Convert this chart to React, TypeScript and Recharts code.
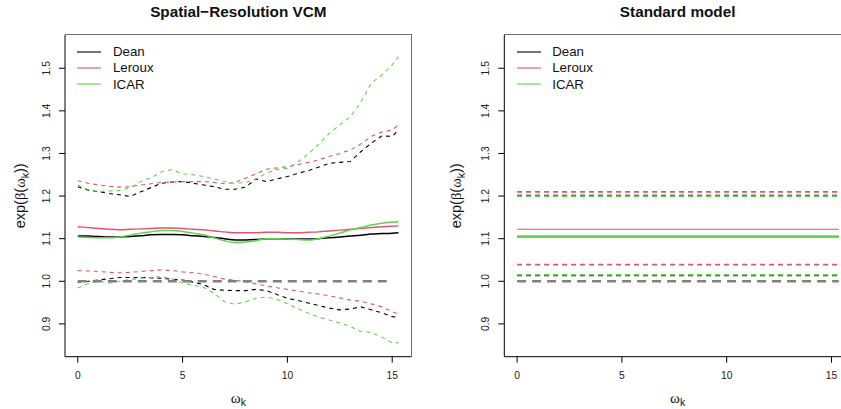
import React from 'react';
import { LineChart, Line, XAxis, YAxis, Legend } from 'recharts';

const FONT = '"Liberation Sans", Arial, Helvetica, sans-serif';
const SERIF = '"Liberation Serif", "DejaVu Serif", serif';

// ---------- data: Spatial-Resolution VCM ----------
const omega = [0, 0.5, 1, 1.5, 2, 2.5, 3, 3.5, 4, 4.5, 5, 5.5, 6, 6.5, 7, 7.5, 8, 8.5, 9, 9.5, 10, 10.5, 11, 11.5, 12, 12.5, 13, 13.5, 14, 14.5, 15, 15.3];

const deanHi = [1.222, 1.214, 1.210, 1.206, 1.203, 1.199, 1.210, 1.220, 1.230, 1.233, 1.234, 1.230, 1.226, 1.222, 1.216, 1.216, 1.221, 1.240, 1.234, 1.240, 1.246, 1.253, 1.260, 1.268, 1.277, 1.279, 1.281, 1.304, 1.324, 1.341, 1.340, 1.355];
const deanMid = [1.1065, 1.106, 1.105, 1.104, 1.104, 1.105, 1.107, 1.109, 1.110, 1.110, 1.109, 1.107, 1.105, 1.103, 1.100, 1.097, 1.097, 1.098, 1.100, 1.100, 1.0995, 1.099, 1.099, 1.100, 1.102, 1.104, 1.106, 1.108, 1.111, 1.112, 1.113, 1.114];
const deanLo = [0.998, 1.000, 1.003, 1.006, 1.009, 1.009, 1.009, 1.008, 1.007, 1.005, 1.003, 0.998, 0.992, 0.981, 0.979, 0.978, 0.978, 0.981, 0.978, 0.969, 0.960, 0.955, 0.949, 0.943, 0.937, 0.933, 0.935, 0.940, 0.933, 0.926, 0.917, 0.915];

const lerouxHi = [1.236, 1.230, 1.226, 1.223, 1.221, 1.222, 1.226, 1.229, 1.232, 1.233, 1.234, 1.234, 1.234, 1.232, 1.229, 1.232, 1.242, 1.252, 1.263, 1.266, 1.269, 1.274, 1.279, 1.285, 1.293, 1.300, 1.308, 1.322, 1.340, 1.350, 1.355, 1.367];
const lerouxMid = [1.128, 1.126, 1.124, 1.122, 1.121, 1.122, 1.123, 1.124, 1.125, 1.125, 1.124, 1.122, 1.121, 1.118, 1.116, 1.114, 1.114, 1.114, 1.115, 1.115, 1.114, 1.114, 1.115, 1.116, 1.118, 1.120, 1.122, 1.124, 1.126, 1.128, 1.129, 1.130];
const lerouxLo = [1.025, 1.024, 1.023, 1.021, 1.020, 1.021, 1.023, 1.025, 1.027, 1.025, 1.022, 1.020, 1.017, 1.011, 1.005, 1.002, 0.999, 0.994, 0.989, 0.985, 0.981, 0.977, 0.973, 0.970, 0.966, 0.961, 0.956, 0.953, 0.947, 0.940, 0.929, 0.923];

const icarHi = [1.226, 1.215, 1.210, 1.212, 1.213, 1.220, 1.234, 1.243, 1.257, 1.262, 1.252, 1.250, 1.246, 1.240, 1.234, 1.230, 1.232, 1.240, 1.254, 1.262, 1.265, 1.280, 1.299, 1.322, 1.347, 1.367, 1.386, 1.420, 1.465, 1.484, 1.508, 1.527];
const icarMid = [1.104, 1.103, 1.102, 1.102, 1.104, 1.108, 1.113, 1.116, 1.119, 1.119, 1.117, 1.113, 1.109, 1.102, 1.095, 1.091, 1.092, 1.095, 1.100, 1.100, 1.099, 1.098, 1.097, 1.100, 1.106, 1.113, 1.121, 1.126, 1.132, 1.136, 1.139, 1.140];
const icarLo = [0.984, 0.995, 1.000, 0.996, 1.000, 1.004, 1.007, 1.009, 1.011, 1.005, 0.996, 0.991, 0.986, 0.972, 0.952, 0.946, 0.952, 0.960, 0.963, 0.958, 0.947, 0.936, 0.925, 0.916, 0.909, 0.902, 0.894, 0.882, 0.880, 0.869, 0.855, 0.856];

const nullLevel = 1.0;
const nullEnd = 15;

// ---------- data: Standard model ----------
const stdOmega = [0, 15.35];
const stdMid = [1.105, 1.122, 1.104]; // Dean, Leroux, ICAR
const stdLo = [1.014, 1.039, 1.015];
const stdHi = [1.201, 1.210, 1.200];

// ---------- labels ----------
const modelNames = ['Dean', 'Leroux', 'ICAR'];
const modelColors = ['#000000', '#DF536B', '#61D04F'];
const yTicks = [0.9, 1.0, 1.1, 1.2, 1.3, 1.4, 1.5];
const xTicks = [0, 5, 10, 15];
const titles = ['Spatial\u2212Resolution VCM', 'Standard model'];

const X_DOMAIN: [number, number] = [-0.61, 15.93];
const Y_DOMAIN: [number, number] = [0.823, 1.578];

const CHART_H = 409;
const TOP = 35;
const X_AXIS_H = 52.3;

const vcmSeries: Record<string, number[]> = {
  DeanHi: deanHi, DeanMid: deanMid, DeanLo: deanLo,
  LerouxHi: lerouxHi, LerouxMid: lerouxMid, LerouxLo: lerouxLo,
  ICARHi: icarHi, ICARMid: icarMid, ICARLo: icarLo,
};

const vcmData = omega.map((x, i) => {
  const row: any = { x, nullRef: x <= nullEnd ? nullLevel : null };
  Object.keys(vcmSeries).forEach((k) => { row[k] = vcmSeries[k][i]; });
  return row;
});

const stdData = stdOmega.map((x) => {
  const row: any = { x, nullRef: nullLevel };
  modelNames.forEach((m, j) => {
    row[m + 'Hi'] = stdHi[j];
    row[m + 'Mid'] = stdMid[j];
    row[m + 'Lo'] = stdLo[j];
  });
  return row;
});

const YTick = (props: any) => {
  const { x, y, payload } = props;
  return (
    <text x={x} y={y} transform={`rotate(-90, ${x}, ${y})`} textAnchor="middle"
      fontSize={10.3} fill="#222" fontFamily={FONT}>
      {Number(payload.value).toFixed(1)}
    </text>
  );
};

const makeYLabel = (offset: number) => (props: any) => {
  const vb = props.viewBox || {};
  const cx = vb.x + vb.width - offset;
  const cy = vb.y + vb.height / 2;
  return (
    <text x={cx} y={cy} transform={`rotate(-90, ${cx}, ${cy})`} textAnchor="middle"
      fontSize={14.5} fill="#111" fontFamily={FONT}>
      exp(<tspan fontFamily={SERIF}>β</tspan>(<tspan fontFamily={SERIF}>ω</tspan>
      <tspan dy={4} fontSize={10.5}>k</tspan><tspan dy={-4}>))</tspan>
    </text>
  );
};

const xLabel = (props: any) => {
  const vb = props.viewBox || {};
  const cx = vb.x + vb.width / 2;
  const y = vb.y + 46;
  return (
    <text x={cx} y={y} textAnchor="middle" fontSize={15} fill="#111" fontFamily={SERIF}>
      ω<tspan dy={3} fontSize={10.5} fontFamily={FONT}>k</tspan>
    </text>
  );
};

const makeTitle = (t: string) => (props: any) => {
  const vb = props.viewBox || {};
  const cx = vb.x + vb.width / 2;
  return (
    <text x={cx} y={vb.y + vb.height - 18.5} textAnchor="middle" fontSize={15.3} fontWeight="bold"
      fill="#111" fontFamily={FONT}>{t}</text>
  );
};

const LegendBox = () => (
  <div style={{ fontFamily: FONT, fontSize: 13.3, color: '#111', lineHeight: 1 }}>
    {modelNames.map((m, i) => (
      <div key={m} style={{ display: 'flex', alignItems: 'center', height: 16.3 }}>
        <svg width={24} height={4} style={{ display: 'block' }}>
          <line x1={0} x2={24} y1={2} y2={2} stroke={modelColors[i]} strokeWidth={1.1} />
        </svg>
        <span style={{ marginLeft: 11.6 }}>{m}</span>
      </div>
    ))}
  </div>
);

type PanelProps = {
  data: any[];
  width: number;
  yAxisWidth: number;
  marginRight: number;
  title: string;
  yLabelOffset: number;
  ciWidth: number;
  ciDash: string;
  midWidths: number[];
};

const Panel = ({ data, width, yAxisWidth, marginRight, title, yLabelOffset, ciWidth, ciDash, midWidths }: PanelProps) => (
  <div style={{ position: 'relative', width, height: CHART_H }}>
    <LineChart width={width} height={CHART_H} data={data}
      margin={{ top: TOP - 1, right: marginRight, bottom: 0, left: 0 }}>
      <XAxis dataKey="x" type="number" domain={X_DOMAIN} ticks={xTicks} allowDataOverflow
        height={X_AXIS_H} tickSize={6} tickMargin={9}
        axisLine={{ stroke: '#000', strokeWidth: 1 }} tickLine={{ stroke: '#000' }}
        tick={{ fontSize: 10.3, fill: '#222', fontFamily: FONT }}
        label={xLabel} />
      <XAxis xAxisId="top" orientation="top" dataKey="x" type="number" domain={X_DOMAIN}
        allowDataOverflow height={1} tick={false} tickLine={false}
        axisLine={false} label={makeTitle(title)} />
      <YAxis type="number" domain={Y_DOMAIN} ticks={yTicks} allowDataOverflow width={yAxisWidth}
        tickSize={6} tickMargin={9} axisLine={{ stroke: '#000', strokeWidth: 1 }}
        tickLine={{ stroke: '#000' }} tick={<YTick />} label={makeYLabel(yLabelOffset)} />
      <Legend content={() => <LegendBox />} layout="horizontal" verticalAlign="middle" align="center"
        wrapperStyle={{ position: 'absolute', left: yAxisWidth + 12.3, top: 43.5, width: 160, margin: 0 }} />
      <Line dataKey="nullRef" xAxisId="top" stroke="none" strokeWidth={0}
        dot={false} activeDot={false} isAnimationActive={false} legendType="none" />
      {modelNames.map((m, i) => (
        <Line key={m + 'Hi'} dataKey={m + 'Hi'} stroke={modelColors[i]} strokeWidth={ciWidth}
          strokeDasharray={ciDash} dot={false} activeDot={false} isAnimationActive={false}
          legendType="none" type="linear" />
      ))}
      {modelNames.map((m, i) => (
        <Line key={m + 'Lo'} dataKey={m + 'Lo'} stroke={modelColors[i]} strokeWidth={ciWidth}
          strokeDasharray={ciDash} dot={false} activeDot={false} isAnimationActive={false}
          legendType="none" type="linear" />
      ))}
      <Line dataKey="nullRef" stroke="#808080" strokeWidth={2.6} strokeDasharray="9 6"
        dot={false} activeDot={false} isAnimationActive={false} legendType="none" type="linear" />
      {modelNames.map((m, i) => (
        <Line key={m + 'Mid'} dataKey={m + 'Mid'} stroke={modelColors[i]} strokeWidth={midWidths[i]}
          dot={false} activeDot={false} isAnimationActive={false} legendType="none" type="monotone" />
      ))}
    </LineChart>
    {/* plot frame: top and right edges */}
    <div style={{
      position: 'absolute', pointerEvents: 'none', boxSizing: 'border-box',
      left: yAxisWidth, top: TOP - 0.75,
      width: width - yAxisWidth - marginRight + 0.75,
      height: CHART_H - TOP - X_AXIS_H + 0.75,
      borderTop: '1.5px solid #6e6e6e', borderRight: '1.5px solid #6e6e6e',
    }} />
  </div>
);

export default function App() {
  return (
    <div style={{ position: 'fixed', left: 0, top: 0, width: 841, height: 409, overflow: 'hidden', background: '#fff' }}>
      <div style={{ position: 'absolute', left: 0, top: 0 }}>
        <Panel data={vcmData} width={420} yAxisWidth={65} marginRight={8.3} title={titles[0]}
          yLabelOffset={40} ciWidth={1.1} ciDash="4 4" midWidths={[1.5, 1.4, 1.5]} />
      </div>
      <div style={{ position: 'absolute', left: 420, top: 0 }}>
        <Panel data={stdData} width={431} yAxisWidth={84.3} marginRight={0} title={titles[1]}
          yLabelOffset={43} ciWidth={1.8} ciDash="5 4" midWidths={[1.5, 1.1, 1.8]} />
      </div>
    </div>
  );
}
